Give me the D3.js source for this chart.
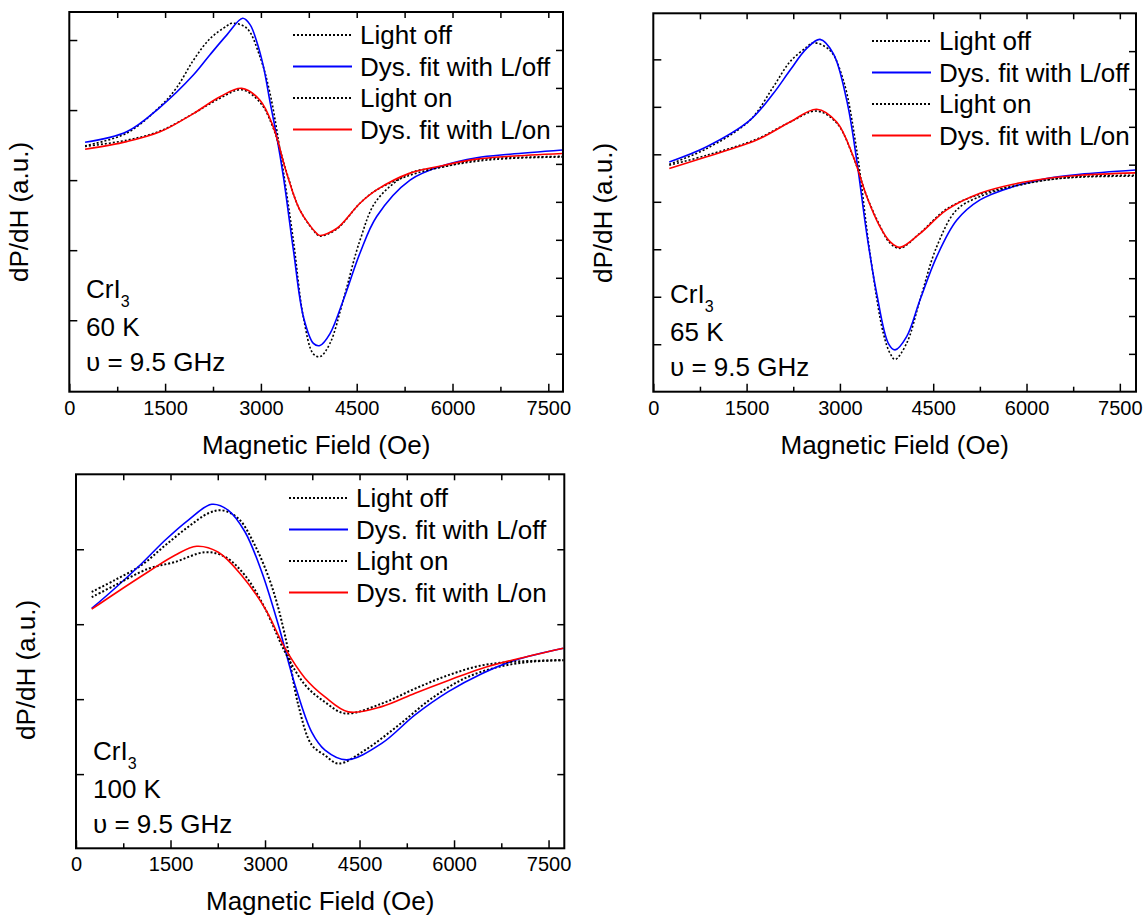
<!DOCTYPE html>
<html>
<head>
<meta charset="utf-8">
<script src="https://cdn.jsdelivr.net/npm/d3@7"></script>
<style>
  body { margin: 0; background: #fff; }
  text { font-family: "Liberation Sans", Arial, sans-serif; fill: #000; }
</style>
</head>
<body>
<svg id="chart" width="1143" height="916"></svg>
<script>
// [field (Oe), dP/dH (a.u.)]
var off60 = [[247,0.49],[898,0.67],[1420,1.05],[1681,1.32],[1942,1.71],[2203,2.02],[2464,2.20],[2543,2.24],[2777,2.17],[2986,1.76],[3142,1.24],[3299,0.43],[3508,-0.86],[3664,-1.95],[3820,-2.48],[3925,-2.52],[4081,-2.33],[4290,-1.71],[4551,-0.86],[4812,-0.29],[5334,0.10],[5856,0.19],[6378,0.29],[6900,0.32],[7719,0.34]];
var fitOff60 = [[247,0.54],[898,0.69],[1420,1.04],[1942,1.50],[2203,1.79],[2464,2.07],[2715,2.31],[2830,2.22],[2934,1.98],[3040,1.62],[3142,1.12],[3248,0.62],[3352,0.05],[3509,-1.00],[3665,-1.95],[3822,-2.33],[3924,-2.36],[4082,-2.19],[4291,-1.71],[4552,-1.04],[4813,-0.52],[5335,0.00],[5857,0.21],[6379,0.32],[6900,0.37],[7720,0.43]];
var on60 = [[247,0.48],[898,0.57],[1420,0.70],[1942,0.95],[2360,1.17],[2699,1.29],[2986,1.11],[3194,0.74],[3403,0.11],[3612,-0.43],[3873,-0.77],[3925,-0.80],[4186,-0.70],[4551,-0.33],[4812,-0.14],[5334,0.07],[5856,0.19],[6378,0.27],[6900,0.31],[7719,0.33]];
var fitOn60 = [[247,0.44],[898,0.55],[1420,0.69],[1942,0.95],[2360,1.19],[2699,1.31],[2986,1.14],[3194,0.76],[3403,0.10],[3612,-0.43],[3873,-0.76],[3925,-0.79],[4186,-0.69],[4551,-0.33],[4812,-0.14],[5334,0.10],[5856,0.21],[6378,0.30],[6900,0.34],[7719,0.38]];

var off65 = [[257,0.79],[858,1.12],[1555,1.72],[1929,2.42],[2198,2.95],[2466,3.26],[2572,3.35],[2840,3.19],[3055,2.56],[3270,1.09],[3484,-1.09],[3698,-2.77],[3806,-3.19],[3886,-3.32],[4073,-2.98],[4287,-2.07],[4555,-0.95],[4877,-0.17],[5252,0.11],[5788,0.32],[6324,0.46],[6860,0.53],[7750,0.56]];
var fitOff65 = [[257,0.84],[858,1.16],[1555,1.72],[1929,2.28],[2198,2.77],[2466,3.23],[2680,3.42],[2894,3.12],[3109,2.14],[3270,0.88],[3431,-0.67],[3591,-1.93],[3778,-2.98],[3886,-3.12],[4073,-2.84],[4287,-2.07],[4555,-1.16],[4877,-0.39],[5252,0.04],[5788,0.32],[6324,0.49],[6860,0.58],[7750,0.67]];
var on65 = [[257,0.77],[858,0.98],[1661,1.32],[2198,1.68],[2627,1.91],[2948,1.66],[3216,0.94],[3431,0.12],[3645,-0.51],[3806,-0.87],[3965,-0.98],[4287,-0.66],[4716,-0.15],[5252,0.16],[5788,0.33],[6324,0.46],[6860,0.52],[7750,0.54]];
var fitOn65 = [[257,0.70],[858,0.95],[1661,1.30],[2198,1.68],[2627,1.95],[2948,1.68],[3216,0.95],[3431,0.11],[3645,-0.53],[3806,-0.84],[3965,-0.96],[4287,-0.67],[4716,-0.17],[5252,0.18],[5788,0.37],[6324,0.49],[6860,0.56],[7750,0.61]];

var off100 = [[249,0.43],[619,0.59],[1043,0.79],[1413,1.05],[1783,1.30],[2101,1.48],[2313,1.52],[2577,1.41],[2841,1.05],[3106,0.51],[3317,-0.15],[3529,-1.08],[3741,-1.61],[3952,-1.75],[4164,-1.86],[4587,-1.68],[5116,-1.35],[5646,-0.99],[6175,-0.72],[6704,-0.57],[7233,-0.50],[7735,-0.48]];
var fitOff100 = [[249,0.21],[619,0.48],[1043,0.81],[1413,1.12],[1783,1.39],[2154,1.60],[2418,1.52],[2683,1.23],[2947,0.70],[3212,-0.01],[3476,-0.81],[3741,-1.44],[3952,-1.68],[4297,-1.81],[4852,-1.59],[5381,-1.21],[5910,-0.90],[6439,-0.66],[6968,-0.48],[7735,-0.32]];
var on100 = [[249,0.36],[619,0.52],[1148,0.74],[1571,0.83],[2048,0.96],[2365,0.90],[2683,0.65],[3000,0.21],[3317,-0.37],[3635,-0.81],[3952,-1.04],[4270,-1.19],[4852,-1.06],[5381,-0.86],[5910,-0.68],[6439,-0.55],[6968,-0.50],[7735,-0.48]];
var fitOn100 = [[249,0.20],[619,0.41],[1148,0.70],[1571,0.92],[1915,1.04],[2259,0.96],[2630,0.65],[3000,0.21],[3317,-0.32],[3635,-0.72],[3952,-0.97],[4322,-1.17],[4852,-1.10],[5381,-0.92],[5910,-0.75],[6439,-0.59],[6968,-0.47],[7735,-0.32]];

var xMajor = [0, 1500, 3000, 4500, 6000, 7500];
var xMinor = [750, 2250, 3750, 5250, 6750];
var xTop = [750, 1500, 2250, 3000, 3750, 4500, 5250, 6000, 6750, 7500];
var legendLabels = ["Light off", "Dys. fit with L/off", "Light on", "Dys. fit with L/on"];
var temps = ["60 K", "65 K", "100 K"];

var svg = d3.select("#chart");

// one entry per sub-plot: frame box [left, top, right, bottom]
var panels = [
  { box: [69.3, 12, 563, 391.7], xMax: 7730, yDom: [-3.02, 2.4], yTicks: [-2, -1, 0, 1, 2],
    y2Dom: [-5, 5], y2Ticks: [-4, -3, -2, -1, 0, 1, 2, 3, 4],
    series: [off60, fitOff60, on60, fitOn60], temp: temps[0], dataWidth: 1.6,
    legend: [293, 35], note: [86, 298], yTitleY: 212 },
  { box: [653.3, 13.3, 1136, 391.7], xMax: 7760, yDom: [-4.0, 3.97], yTicks: [-3, -2, -1, 0, 1, 2, 3],
    y2Dom: [-5, 5], y2Ticks: [-4, -3, -2, -1, 0, 1, 2, 3, 4],
    series: [off65, fitOff65, on65, fitOn65], temp: temps[1], dataWidth: 1.6,
    legend: [872, 41], note: [670, 303], yTitleY: 213 },
  { box: [76, 474.3, 564.3, 848.3], xMax: 7750, yDom: [-2.99, 2.0], yTicks: [-2, -1, 0, 1],
    y2Dom: [-2.99, 2.0], y2Ticks: [-2, -1, 0, 1],
    series: [off100, fitOff100, on100, fitOn100], temp: temps[2], dataWidth: 2,
    legend: [289, 498], note: [93, 760], yTitleY: 670 }
];

var styles = [
  { color: "#000", dash: "2,2", data: true },
  { color: "#0000ff", dash: null, data: false },
  { color: "#000", dash: "2,2", data: true },
  { color: "#ff0000", dash: null, data: false }
];

panels.forEach(function(p, pi) {
  var L = p.box[0], T = p.box[1], R = p.box[2], B = p.box[3];
  var x = d3.scaleLinear().domain([0, p.xMax]).range([L, R]);
  var y = d3.scaleLinear().domain(p.yDom).range([B, T]);
  var y2 = d3.scaleLinear().domain(p.y2Dom).range([B, T]);

  var g = svg.append("g");

  g.append("clipPath").attr("id", "clip" + pi)
    .append("rect").attr("x", L).attr("y", T).attr("width", R - L).attr("height", B - T);

  // axes with inward ticks
  var bottom = g.append("g").attr("transform", "translate(0," + B + ")")
    .call(d3.axisBottom(x).tickValues(xMajor).tickSizeInner(-8).tickSizeOuter(0).tickPadding(9).tickFormat(d3.format("d")));
  bottom.selectAll("text").attr("font-size", 20).style("font-family", "'Liberation Sans', Arial, sans-serif");
  g.append("g").attr("transform", "translate(0," + B + ")")
    .call(d3.axisBottom(x).tickValues(xMinor).tickSizeInner(-5).tickSizeOuter(0).tickFormat(""));
  g.append("g").attr("transform", "translate(0," + T + ")")
    .call(d3.axisTop(x).tickValues(xTop).tickSizeInner(-6).tickSizeOuter(0).tickFormat(""));
  g.append("g").attr("transform", "translate(" + L + ",0)")
    .call(d3.axisLeft(y).tickValues(p.yTicks).tickSizeInner(-8).tickSizeOuter(0).tickFormat(""));
  g.append("g").attr("transform", "translate(" + R + ",0)")
    .call(d3.axisRight(y2).tickValues(p.y2Ticks).tickSizeInner(-7).tickSizeOuter(0).tickFormat(""));
  g.selectAll(".domain").remove();
  g.selectAll(".tick line").attr("stroke", "#000").attr("stroke-width", 1.5);

  // curves
  var line = d3.line()
    .x(function(d) { return x(d[0]); })
    .y(function(d) { return y(d[1]); })
    .curve(d3.curveCatmullRom.alpha(0.5));

  p.series.forEach(function(s, i) {
    g.append("path")
      .datum(s)
      .attr("clip-path", "url(#clip" + pi + ")")
      .attr("fill", "none")
      .attr("stroke", styles[i].color)
      .attr("stroke-width", styles[i].data ? p.dataWidth : 1.6)
      .attr("stroke-dasharray", styles[i].dash)
      .attr("d", line);
  });

  // frame
  g.append("rect").attr("x", L).attr("y", T).attr("width", R - L).attr("height", B - T)
    .attr("fill", "none").attr("stroke", "#000").attr("stroke-width", 2);

  // legend
  var leg = g.append("g").attr("transform", "translate(" + p.legend[0] + "," + p.legend[1] + ")");
  legendLabels.forEach(function(lab, i) {
    var row = leg.append("g").attr("transform", "translate(0," + (i * 31.5) + ")");
    row.append("line").attr("x1", 0).attr("x2", 59).attr("y1", 0).attr("y2", 0)
      .attr("stroke", styles[i].color).attr("stroke-width", 2)
      .attr("stroke-dasharray", styles[i].dash);
    row.append("text").attr("x", 67).attr("y", 9).attr("font-size", 26).text(lab);
  });

  // sample annotation
  var note = g.append("g").attr("font-size", 26);
  var cr = note.append("text").attr("x", p.note[0]).attr("y", p.note[1]);
  cr.append("tspan").text("CrI");
  cr.append("tspan").attr("font-size", 16).attr("dy", 9).text("3");
  note.append("text").attr("x", p.note[0]).attr("y", p.note[1] + 38).text(p.temp);
  note.append("text").attr("x", p.note[0]).attr("y", p.note[1] + 73).text("\u03c5 = 9.5 GHz");

  // axis titles
  g.append("text").attr("x", (L + R) / 2).attr("y", B + 62)
    .attr("text-anchor", "middle").attr("font-size", 26).text("Magnetic Field (Oe)");
  g.append("text")
    .attr("transform", "translate(" + (L - 41) + "," + p.yTitleY + ") rotate(-90)")
    .attr("text-anchor", "middle").attr("font-size", 26).text("dP/dH (a.u.)");
});
</script>
</body>
</html>
